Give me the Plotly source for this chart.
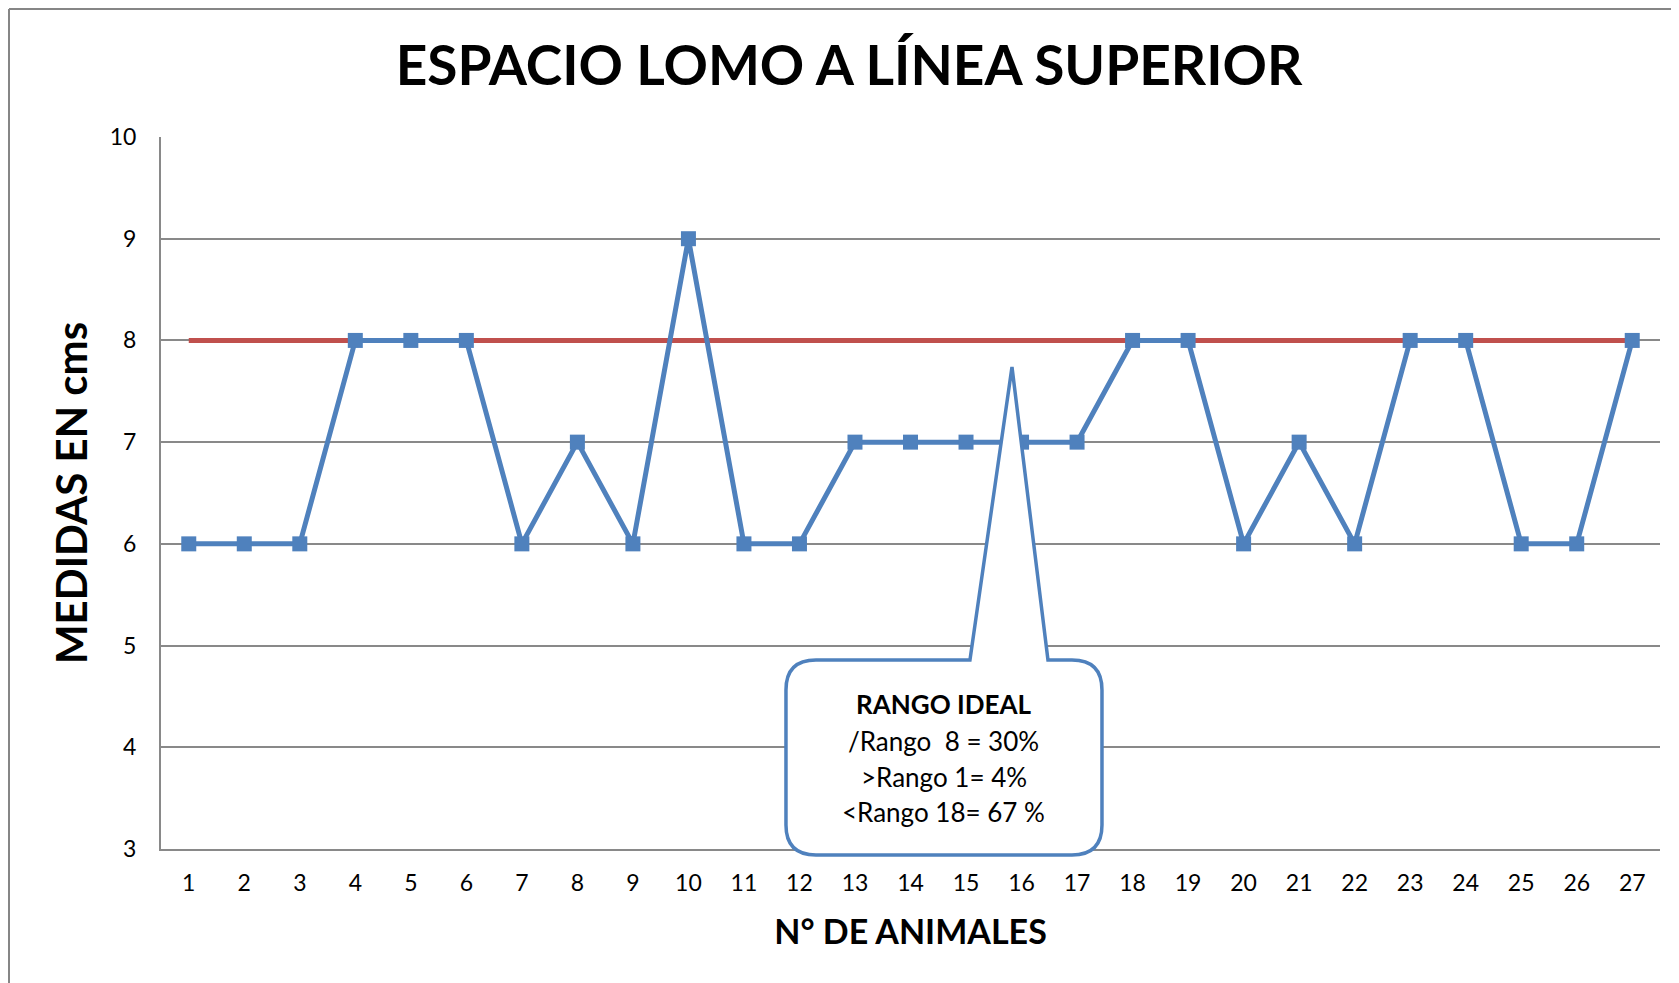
import plotly.graph_objects as go

animales = list(range(1, 28))
medidas = [6, 6, 6, 8, 8, 8, 6, 7, 6, 9, 6, 6, 7, 7, 7, 7, 7, 8, 8, 6, 7, 6, 8, 8, 6, 6, 8]
ideal = [8] * 27
y_ticks = [3, 4, 5, 6, 7, 8, 9, 10]
callout_lines = ["<b>RANGO IDEAL</b>", "/Rango  8 = 30%", ">Rango 1= 4%", "&lt;Rango 18= 67 %"]

BLUE = "#4F81BD"
RED = "#C0504D"
GRID = "#898989"
FONT = "Lato"

# page is rendered with an 8px body margin; layout below compensates for it
ML, MT = 153, 129
PW, PH = 1499, 712
XMIN, XMAX, YMIN, YMAX = 0.5, 27.5, 3, 10


def px(xd):
    return (xd - XMIN) / (XMAX - XMIN)


def py(yd):
    return (yd - YMIN) / (YMAX - YMIN)


fig = go.Figure()
fig.add_trace(go.Scatter(x=animales, y=ideal, mode="lines",
                         line=dict(color=RED, width=5), showlegend=False))
fig.add_trace(go.Scatter(x=animales, y=medidas, mode="lines+markers",
                         line=dict(color=BLUE, width=5),
                         marker=dict(symbol="square", size=15, color=BLUE),
                         showlegend=False))

# Callout (rounded rectangle with pointer), in paper units (not clipped)
L, R, T, B = px(11.757), px(17.449), py(4.858), py(2.941)
rx, ry = 30 / PW, 30 / PH
pl, pr, tx, ty = px(15.071), px(16.476), px(15.828), py(7.739)
path = (f"M {L+rx},{T} L {pl},{T} L {tx},{ty} L {pr},{T} L {R-rx},{T} "
        f"Q {R},{T} {R},{T-ry} L {R},{B+ry} Q {R},{B} {R-rx},{B} "
        f"L {L+rx},{B} Q {L},{B} {L},{B+ry} L {L},{T-ry} Q {L},{T} {L+rx},{T} Z")
fig.add_shape(type="path", path=path, xref="paper", yref="paper",
              line=dict(color=BLUE, width=3.5), fillcolor="white", layer="above")

line_y = [4.424, 4.059, 3.704, 3.359]
for txt, yv in zip(callout_lines, line_y):
    fig.add_annotation(x=(L + R) / 2, y=py(yv), xref="paper", yref="paper",
                       text=txt, showarrow=False, align="center",
                       xanchor="center", yanchor="middle",
                       font=dict(family=FONT, size=26, color="black"))

# Outer chart border (partially visible, left and top)
bx = (1 - ML) / PW
by = (PH + MT - 1) / PH
fig.add_shape(type="line", xref="paper", yref="paper",
              x0=bx, x1=1.05, y0=by, y1=by,
              line=dict(color="#868686", width=2))
fig.add_shape(type="line", xref="paper", yref="paper",
              x0=bx, x1=bx, y0=by, y1=-0.3,
              line=dict(color="#868686", width=2))

fig.update_layout(
    width=1679, height=983,
    margin=dict(l=ML, r=1679 - ML - PW, t=MT, b=983 - MT - PH),
    paper_bgcolor="white", plot_bgcolor="white",
    title=dict(text="<b>ESPACIO LOMO A LÍNEA SUPERIOR</b>", x=841 / 1679, xanchor="center",
               y=1 - 58 / 983, yanchor="middle",
               font=dict(family=FONT, size=55, color="black")),
    xaxis=dict(range=[XMIN, XMAX], tickvals=animales, ticktext=[str(a) for a in animales],
               showgrid=False, showline=True, linecolor=GRID, linewidth=2,
               ticks="", zeroline=False, ticklabelstandoff=12,
               tickfont=dict(family=FONT, size=23, color="black"),
               title=dict(text="<b>N° DE ANIMALES</b>", standoff=26,
                          font=dict(family=FONT, size=34, color="black"))),
    yaxis=dict(range=[YMIN, YMAX], tickvals=y_ticks, showgrid=True, gridcolor=GRID, gridwidth=1.5,
               showline=True, linecolor=GRID, linewidth=2, ticks="", zeroline=False,
               ticklabelstandoff=18,
               tickfont=dict(family=FONT, size=23, color="black"),
               title=dict(text="<b>MEDIDAS EN cms</b>", standoff=9,
                          font=dict(family=FONT, size=42, color="black"))),
)

fig.write_html("out.html")
